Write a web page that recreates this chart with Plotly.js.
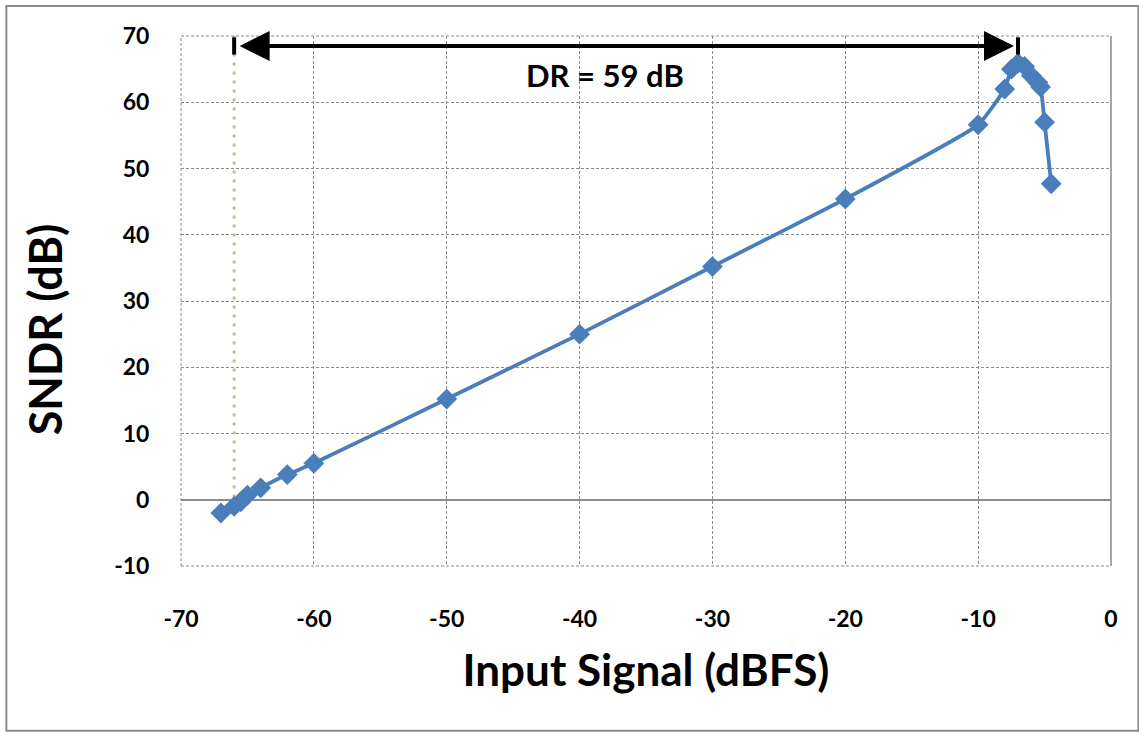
<!DOCTYPE html>
<html>
<head>
<meta charset="utf-8">
<script src="https://cdn.plot.ly/plotly-3.0.1.min.js"></script>
<style>html,body{margin:0;padding:0;background:#fff}#chart{width:1139px;height:733px}</style>
</head>
<body>
<div id="chart"></div>
<script>
// Data
const inputSignal = [-67, -66, -65.5, -65, -64, -62, -60, -50, -40, -30, -20, -10, -8, -7.5, -7, -6.5, -6, -5.5, -5.3, -5, -4.5];
const sndr        = [-2.0, -1.0, -0.3, 0.7, 1.8, 3.8, 5.5, 15.2, 25.0, 35.2, 45.4, 56.6, 62.0, 65.0, 65.9, 65.4, 64.0, 63.0, 62.3, 57.0, 47.7];
const drRange = [-66, -7];     // dynamic range limits (dBFS)
const drLevel = 68.5;          // level of the DR arrow
const drLabel = 'DR = 59 dB';
const xTitle = 'Input Signal (dBFS)';
const yTitle = 'SNDR (dB)';
const xTicks = [-70, -60, -50, -40, -30, -20, -10, 0];
const yTicks = [-10, 0, 10, 20, 30, 40, 50, 60, 70];

const FONT = 'Lato, "Open Sans", sans-serif';
const gridCol = '#8c8c8c';

const traces = [
  {
    x: [drRange[0], drRange[0]], y: [-1, 70],
    mode: 'lines', line: {color: '#c8bb93', width: 3, dash: '3px,6px'},
    hoverinfo: 'skip', showlegend: false
  },
  {
    x: inputSignal, y: sndr, mode: 'lines+markers',
    line: {color: '#4a7ebb', width: 3.8, shape: 'spline', smoothing: 0.4},
    marker: {symbol: 'diamond', size: 16, color: '#4a7ebb'},
    showlegend: false
  }
];

const layout = {
  width: 1139, height: 733,
  margin: {l: 181, r: 28, t: 36, b: 167},
  paper_bgcolor: '#fff', plot_bgcolor: '#fff',
  font: {family: FONT, color: '#000'},
  xaxis: {
    range: [-70, 0], tickvals: xTicks, ticktext: xTicks.map(String),
    showgrid: true, gridcolor: gridCol, griddash: '3px,2px', gridwidth: 1,
    zeroline: false, showline: false,
    ticks: 'outside', ticklen: 32, tickcolor: 'rgba(0,0,0,0)',
    tickfont: {family: FONT, size: 23, color: '#000', weight: 'bold'},
    title: {text: '<b>' + xTitle + '</b>', font: {family: FONT, size: 44, color: '#000'}, standoff: 24}
  },
  yaxis: {
    range: [-10, 70], tickvals: yTicks, ticktext: yTicks.map(String),
    showgrid: true, gridcolor: gridCol, griddash: '3px,2px', gridwidth: 1,
    zeroline: true, zerolinecolor: '#8c8c8c', zerolinewidth: 1.5, showline: false,
    ticks: 'outside', ticklen: 26, tickcolor: 'rgba(0,0,0,0)',
    tickfont: {family: FONT, size: 23, color: '#000', weight: 'bold'}
  },
  shapes: [
    // outer chart border
    {type: 'rect', xref: 'paper', yref: 'paper', x0: -0.1878, x1: 1.0295, y0: -0.3107, y1: 1.0568,
     line: {color: '#8a8a8a', width: 2}, layer: 'below'},
    // plot area border
    {type: 'line', xref: 'paper', yref: 'paper', x0: 0, x1: 1, y0: 1, y1: 1, line: {color: gridCol, width: 1, dash: '3px,2px'}},
    {type: 'line', xref: 'paper', yref: 'paper', x0: 0, x1: 1, y0: 0, y1: 0, line: {color: gridCol, width: 1, dash: '3px,2px'}},
    {type: 'line', xref: 'paper', yref: 'paper', x0: 0, x1: 0, y0: 0, y1: 1, line: {color: gridCol, width: 1, dash: '3px,2px'}},
    {type: 'line', xref: 'paper', yref: 'paper', x0: 1, x1: 1, y0: 0, y1: 1, line: {color: '#8a8a8a', width: 1.5}},
    // end bars of DR arrow
    {type: 'line', xref: 'x', yref: 'y', x0: drRange[0], x1: drRange[0], y0: drLevel - 1.3, y1: drLevel + 1.3, line: {color: '#000', width: 4}},
    {type: 'line', xref: 'x', yref: 'y', x0: drRange[1], x1: drRange[1], y0: drLevel - 1.3, y1: drLevel + 1.3, line: {color: '#000', width: 4}}
  ],
  annotations: [
    {x: drRange[1] - 0.3, y: drLevel, ax: drRange[0] + 0.3, ay: drLevel, xref: 'x', yref: 'y', axref: 'x', ayref: 'y',
     text: '', showarrow: true, arrowhead: 2, arrowside: 'end+start', arrowsize: 1.5, arrowwidth: 4, arrowcolor: '#000'},
    {x: -38.1, y: 64.1, xref: 'x', yref: 'y', text: '<b>' + drLabel + '</b>', showarrow: false,
     font: {family: FONT, size: 31, color: '#000'}},
    {x: -0.146, y: 0.447, xref: 'paper', yref: 'paper', xanchor: 'center', yanchor: 'middle', textangle: -90,
     text: '<b>' + yTitle + '</b>', showarrow: false, font: {family: FONT, size: 45, color: '#000'}}
  ]
};

Plotly.newPlot('chart', traces, layout, {displayModeBar: false, staticPlot: true});
</script>
</body>
</html>
